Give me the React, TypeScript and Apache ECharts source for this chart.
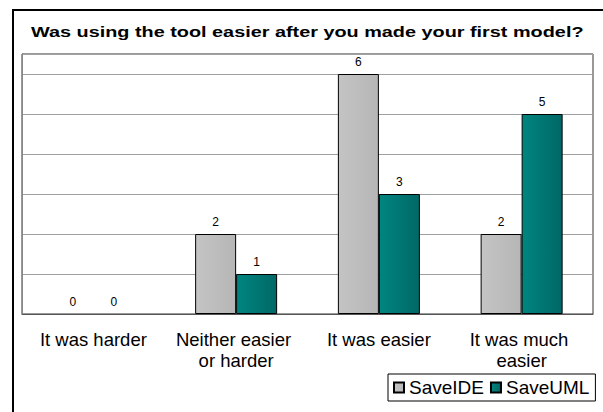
import React, { useEffect, useRef } from "react";
import * as echarts from "echarts";

const categories = ["It was harder", "Neither easier or harder", "It was easier", "It was much easier"];
const saveIDE = [0, 2, 6, 2];
const saveUML = [0, 1, 3, 5];
const seriesNames = ["SaveIDE", "SaveUML"];
const titleText = "Was using the tool easier after you made your first model?";

const FONT = "'Liberation Sans', Arial, sans-serif";

export default function App() {
  const ref = useRef<HTMLDivElement>(null);
  useEffect(() => {
    if (!ref.current) return;
    const chart = echarts.init(ref.current, undefined, { renderer: "svg" });
    const grayGrad = new echarts.graphic.LinearGradient(0, 0, 1, 0, [
      { offset: 0, color: "#c4c4c4" },
      { offset: 1, color: "#b6b6b6" },
    ]);
    const tealGrad = new echarts.graphic.LinearGradient(0, 0, 1, 0, [
      { offset: 0, color: "#008580" },
      { offset: 1, color: "#006866" },
    ]);
    const toData = (arr: number[]) =>
      arr.map((v) => (v === 0 ? { value: v, itemStyle: { borderWidth: 0 } } : v));
    const labelStyle = {
      show: true,
      position: "top",
      distance: 6,
      fontSize: 12,
      color: "#000",
      fontFamily: FONT,
    };
    chart.setOption({
      animation: false,
      backgroundColor: "#ffffff",
      textStyle: { fontFamily: FONT },
      graphic: [
        {
          type: "rect",
          shape: { x: 13, y: 10, width: 640, height: 440 },
          style: { fill: "none", stroke: "#000", lineWidth: 2 },
          silent: true,
        },
        {
          type: "text",
          x: 31,
          y: 32,
          scaleX: 1.28,
          style: {
            text: titleText,
            fontFamily: FONT,
            fontWeight: "bold",
            fontSize: 15.5,
            fill: "#000",
            verticalAlign: "middle",
            align: "left",
          },
          silent: true,
        },
      ],
      legend: {
        data: seriesNames,
        left: 388,
        top: 374,
        orient: "horizontal",
        padding: [4, 6, 4, 5],
        itemWidth: 10,
        itemHeight: 10,
        itemGap: 6,
        borderColor: "#000",
        borderWidth: 1,
        icon: "rect",
        textStyle: { fontFamily: FONT, fontSize: 19, color: "#000" },
      },
      grid: {
        left: 22,
        right: 10,
        top: 54,
        bottom: 98,
        show: true,
        borderColor: "#333",
        borderWidth: 1,
        containLabel: false,
      },
      xAxis: {
        type: "category",
        data: categories,
        axisTick: { show: false },
        axisLine: { show: true, lineStyle: { color: "#555", width: 1 } },
        axisLabel: {
          interval: 0,
          margin: 15,
          fontFamily: FONT,
          fontSize: 18.5,
          lineHeight: 21,
          color: "#000",
          width: 130,
          overflow: "break",
        },
      },
      yAxis: {
        type: "value",
        min: 0,
        max: 6.5,
        interval: 1,
        axisLabel: { show: false },
        axisLine: { show: true, lineStyle: { color: "#888", width: 1 } },
        axisTick: { show: false },
        splitLine: { show: true, lineStyle: { color: "#a0a0a0", width: 1 } },
      },
      series: [
        {
          name: seriesNames[0],
          type: "bar",
          data: toData(saveIDE),
          barWidth: 41,
          barGap: "0%",
          itemStyle: { color: grayGrad, borderColor: "#000", borderWidth: 1 },
          label: labelStyle,
        },
        {
          name: seriesNames[1],
          type: "bar",
          data: toData(saveUML),
          barWidth: 41,
          barGap: "0%",
          itemStyle: { color: tealGrad, borderColor: "#000", borderWidth: 1 },
          label: labelStyle,
        },
      ],
    });
    return () => chart.dispose();
  }, []);
  return (
    <div
      ref={ref}
      style={{ position: "fixed", left: 0, top: 0, width: 603, height: 412 }}
    />
  );
}
